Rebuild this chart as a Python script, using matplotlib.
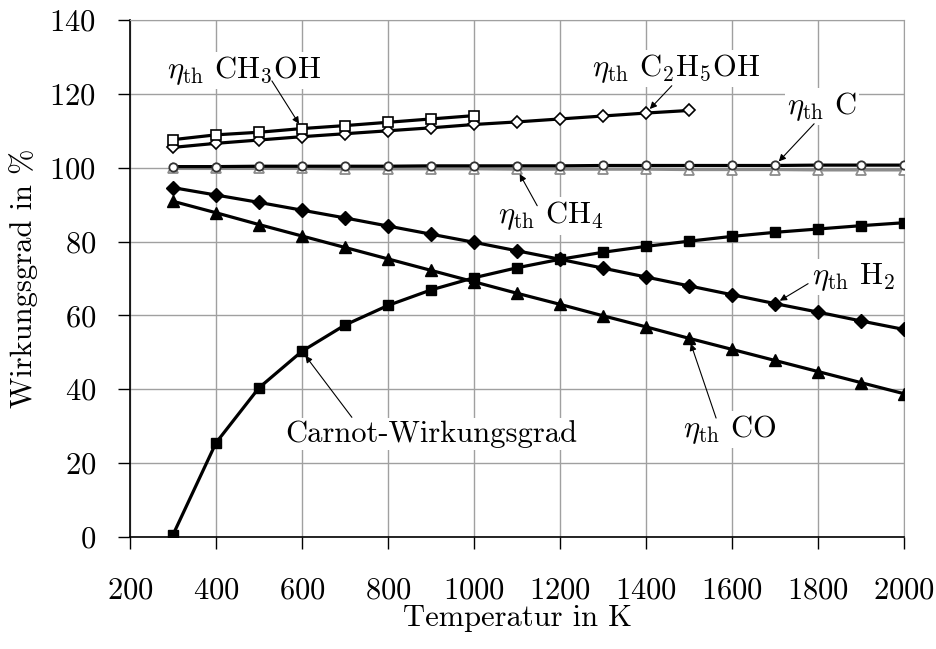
import matplotlib
matplotlib.use("Agg")
import matplotlib.pyplot as plt

# Temperaturen in K
T = [300, 400, 500, 600, 700, 800, 900, 1000, 1100, 1200,
     1300, 1400, 1500, 1600, 1700, 1800, 1900, 2000]
T_ch3oh = T[:8]
T_c2h5oh = T[:13]

# Wirkungsgrade in %
carnot = [0.6, 25.5, 40.4, 50.3, 57.4, 62.7, 66.9, 70.2, 72.9, 75.2,
          77.1, 78.7, 80.1, 81.4, 82.5, 83.4, 84.3, 85.1]
eta_h2 = [94.6, 92.6, 90.6, 88.5, 86.4, 84.2, 82.0, 79.8, 77.5, 75.2,
          72.8, 70.4, 68.0, 65.6, 63.2, 60.9, 58.5, 56.2]
eta_co = [90.9, 87.8, 84.6, 81.5, 78.4, 75.3, 72.2, 69.1, 66.0, 63.0,
          59.9, 56.9, 53.8, 50.8, 47.8, 44.8, 41.8, 38.8]
eta_c = [100.3, 100.3, 100.4, 100.4, 100.4, 100.4, 100.5, 100.5, 100.5,
         100.5, 100.6, 100.6, 100.6, 100.6, 100.6, 100.7, 100.7, 100.7]
eta_ch4 = [99.8, 99.8, 99.8, 99.8, 99.7, 99.7, 99.7, 99.7, 99.6, 99.6,
           99.6, 99.6, 99.5, 99.5, 99.5, 99.4, 99.4, 99.4]
eta_ch3oh = [107.6, 108.9, 109.6, 110.6, 111.4, 112.3, 113.2, 114.1]
eta_c2h5oh = [105.5, 106.6, 107.5, 108.4, 109.2, 110.0, 110.8, 111.7,
              112.4, 113.2, 114.0, 114.8, 115.5]

x_ticks = list(range(200, 2001, 200))
y_ticks = list(range(0, 141, 20))

plt.rcParams["font.family"] = "cmr10"
plt.rcParams["mathtext.fontset"] = "cm"
plt.rcParams["axes.formatter.use_mathtext"] = True

fs = 22
grid_col = "#a0a0a0"

fig = plt.figure(figsize=(9.36, 6.49), dpi=100)
ax = fig.add_axes([0.1389, 0.1726, 0.8269, 0.7966])

ax.set_xlim(200, 2000)
ax.set_ylim(0, 140)
ax.set_xticks(x_ticks)
ax.set_yticks(y_ticks)
ax.grid(True, color=grid_col, lw=1.0)
ax.set_axisbelow(True)
for side in ("top", "right"):
    ax.spines[side].set_color(grid_col)
for side in ("left", "bottom"):
    ax.spines[side].set_linewidth(1.2)
ax.tick_params(axis="x", direction="out", length=8.5, width=1,
               labelsize=fs, pad=20)
ax.tick_params(axis="y", direction="out", length=8.5, width=1,
               labelsize=fs, pad=16)

lw = 2.3
# Kurven
ax.plot(T, eta_ch4, color="#8c8c8c", lw=lw, marker="^", ms=7,
        mfc="white", mec="#8c8c8c", mew=1.3, zorder=3)
ax.plot(T, eta_c, color="black", lw=lw, marker="o", ms=6,
        mfc="white", mec="#333333", mew=1.3, zorder=4)
ax.plot(T_c2h5oh, eta_c2h5oh, color="black", lw=lw, marker="D", ms=6,
        mfc="white", mec="black", mew=1.2, zorder=4)
ax.plot(T_ch3oh, eta_ch3oh, color="black", lw=lw, marker="s", ms=7.5,
        mfc="white", mec="black", mew=1.2, zorder=5)
ax.plot(T, eta_h2, color="black", lw=lw, marker="D", ms=7,
        mfc="black", mec="black", zorder=4)
ax.plot(T, eta_co, color="black", lw=lw, marker="^", ms=8.5,
        mfc="black", mec="black", zorder=4)
ax.plot(T, carnot, color="black", lw=lw, marker="s", ms=7.5,
        mfc="black", mec="black", zorder=4)

# Beschriftungen mit Pfeilen: (Text, Textposition, Pfeilanfang, Zielpunkt)
labels = [
    (r"$\eta_{\rm th}$ CH$_3$OH", (286, 124.3), (530, 123.5), (600, eta_ch3oh[3])),
    (r"$\eta_{\rm th}$ C$_2$H$_5$OH", (1274, 124.9), (1460, 122.2), (1400, eta_c2h5oh[11])),
    (r"$\eta_{\rm th}$ C", (1728, 114.6), (1791, 111.9), (1700, eta_c[14])),
    (r"$\eta_{\rm th}$ CH$_4$", (1056, 84.9), (1147, 89.7), (1100, eta_ch4[8])),
    (r"$\eta_{\rm th}$ H$_2$", (1786, 68.6), (1777, 68.6), (1700, eta_h2[14])),
    (r"$\eta_{\rm th}$ CO", (1486, 27.0), (1563, 32.2), (1500, eta_co[12])),
    ("Carnot-Wirkungsgrad", (560, 25.7), (716, 32.4), (600, carnot[3])),
]
for text, pos, start, target in labels:
    ax.text(pos[0], pos[1], text, fontsize=fs, ha="left", va="baseline",
            bbox=dict(fc="white", ec="none", pad=1.5), zorder=6)
    ax.annotate("", xy=target, xytext=start,
                arrowprops=dict(arrowstyle="-|>", color="black", lw=0.8,
                                mutation_scale=10, shrinkA=0, shrinkB=4),
                zorder=7)

ax.set_xlabel("Temperatur in K", fontsize=fs)
ax.set_ylabel("Wirkungsgrad in %", fontsize=fs)
ax.xaxis.set_label_coords(0.5, -0.13)
ax.yaxis.set_label_coords(-0.119, 0.5)

fig.savefig("out.png", dpi=100)
